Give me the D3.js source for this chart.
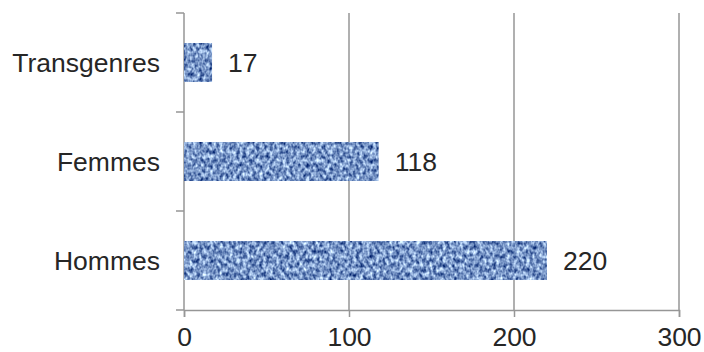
<!DOCTYPE html>
<html>
<head>
<meta charset="utf-8">
<script src="https://cdn.jsdelivr.net/npm/d3@7/dist/d3.min.js"></script>
<style>
  html, body { margin: 0; padding: 0; background: #fff; }
  svg { display: block; }
  text { font-family: "Liberation Sans", Arial, sans-serif; fill: #262626; }
</style>
</head>
<body>
<svg id="chart" width="704" height="352"></svg>
<script>
// Respondents by gender (bottom to top in the chart: Hommes, Femmes, Transgenres)
const categories = ["Transgenres", "Femmes", "Hommes"];
const values = [17, 118, 220];
const xTicks = [0, 100, 200, 300];

const W = 704, H = 352;
const margin = { left: 184, right: 25, top: 13, bottom: 42 };
const fontSize = 26.5;

const svg = d3.select("#chart");

// Denim-like texture used to fill the bars
const defs = svg.append("defs");
const filt = defs.append("filter")
  .attr("id", "denim")
  .attr("x", 0).attr("y", 0).attr("width", 1).attr("height", 1)
  .attr("color-interpolation-filters", "sRGB");
filt.append("feTurbulence")
  .attr("type", "fractalNoise")
  .attr("baseFrequency", "0.3 0.22")
  .attr("numOctaves", 2)
  .attr("seed", 7)
  .attr("result", "noise");
filt.append("feColorMatrix")
  .attr("in", "noise")
  .attr("type", "matrix")
  .attr("values",
    "1.35 0 0 0 -0.20 " +
    "1.30 0 0 0 -0.06 " +
    "1.00 0 0 0 0.28 " +
    "0 0 0 0 1")
  .attr("result", "tint");
filt.append("feComposite")
  .attr("in", "tint")
  .attr("in2", "SourceGraphic")
  .attr("operator", "in");

const x = d3.scaleLinear()
  .domain([0, 300])
  .range([margin.left, W - margin.right]);

const y = d3.scaleBand()
  .domain(categories)
  .range([margin.top, H - margin.bottom])
  .paddingInner(0.606)
  .paddingOuter(0.303);

const gridColor = "#969696";

// Vertical gridlines
svg.append("g")
  .selectAll("line")
  .data(xTicks.filter(d => d > 0))
  .join("line")
  .attr("x1", d => x(d)).attr("x2", d => x(d))
  .attr("y1", margin.top).attr("y2", H - margin.bottom)
  .attr("stroke", gridColor).attr("stroke-width", 1.5);

// Bottom value axis
const xAxis = svg.append("g")
  .attr("transform", `translate(0,${H - margin.bottom})`)
  .call(d3.axisBottom(x).tickValues(xTicks).tickSize(7).tickPadding(10).tickFormat(d3.format("d")));
xAxis.select(".domain").attr("stroke", gridColor).attr("stroke-width", 1.5);
xAxis.selectAll(".tick line").attr("stroke", gridColor).attr("stroke-width", 1.5);
xAxis.selectAll(".tick text")
  .attr("font-size", fontSize)
  .attr("font-family", "Liberation Sans, Arial, sans-serif")
  .attr("fill", "#262626");

// Left category axis, ticks between categories
const yAxisG = svg.append("g");
yAxisG.append("line")
  .attr("x1", margin.left).attr("x2", margin.left)
  .attr("y1", margin.top).attr("y2", H - margin.bottom)
  .attr("stroke", gridColor).attr("stroke-width", 1.5);
const bounds = d3.range(categories.length + 1)
  .map(i => margin.top + i * y.step());
yAxisG.selectAll("line.tick")
  .data(bounds)
  .join("line")
  .attr("class", "tick")
  .attr("x1", margin.left - 8).attr("x2", margin.left)
  .attr("y1", d => d).attr("y2", d => d)
  .attr("stroke", gridColor).attr("stroke-width", 1.5);
yAxisG.selectAll("text")
  .data(categories)
  .join("text")
  .attr("x", margin.left - 24)
  .attr("y", d => y(d) + y.bandwidth() / 2)
  .attr("dy", "0.35em")
  .attr("text-anchor", "end")
  .attr("font-size", fontSize)
  .text(d => d);

// Bars
const data = categories.map((c, i) => ({ cat: c, val: values[i] }));
svg.append("g")
  .selectAll("rect")
  .data(data)
  .join("rect")
  .attr("x", x(0))
  .attr("y", d => y(d.cat))
  .attr("width", d => x(d.val) - x(0))
  .attr("height", y.bandwidth())
  .attr("fill", "#5a80c4")
  .attr("filter", "url(#denim)");

// Value labels
svg.append("g")
  .selectAll("text")
  .data(data)
  .join("text")
  .attr("x", d => x(d.val) + 16)
  .attr("y", d => y(d.cat) + y.bandwidth() / 2)
  .attr("dy", "0.35em")
  .attr("font-size", fontSize)
  .text(d => d.val);
</script>
</body>
</html>
